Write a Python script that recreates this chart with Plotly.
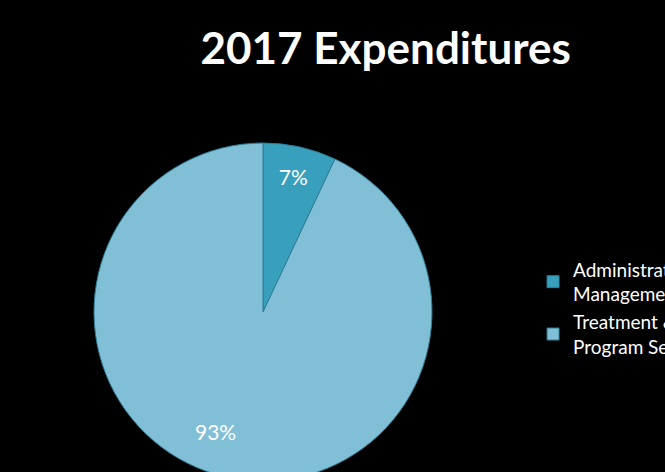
import plotly.graph_objects as go

# Expenditure shares for 2017
categories = ["Administrative &<br>Management", "Treatment &<br>Program Services"]
shares = [7, 93]
slice_colors = ["#38A0BC", "#80BFD6"]

# Pie occupies a 338px square; its lower edge runs past the bottom of the page
PIE_LEFT, PIE_TOP, PIE_SIZE = 94, 143, 338
FIG_W, FIG_H = 665, PIE_TOP + PIE_SIZE + 1

fig = go.Figure(
    go.Pie(
        labels=categories,
        values=shares,
        sort=False,
        direction="clockwise",
        rotation=0,
        marker=dict(colors=slice_colors, line=dict(color="#2E7F96", width=1)),
        texttemplate=["%{percent:.0%}", ""],
        textposition="inside",
        insidetextorientation="horizontal",
        textfont=dict(family="Lato", size=21, color="white"),
        hoverinfo="label+percent",
        domain=dict(x=[0, 1], y=[0, 1]),
    )
)

# Percentage label for the large slice, set low in the slice
total = sum(shares)
fig.add_annotation(
    text=f"{round(100 * shares[1] / total)}%",
    x=0.358,
    y=0.104,
    xref="paper",
    yref="paper",
    showarrow=False,
    font=dict(family="Lato", size=21, color="white"),
)

fig.update_layout(
    width=FIG_W,
    height=FIG_H,
    paper_bgcolor="black",
    plot_bgcolor="black",
    margin=dict(
        l=PIE_LEFT,
        r=FIG_W - PIE_LEFT - PIE_SIZE,
        t=PIE_TOP,
        b=FIG_H - PIE_TOP - PIE_SIZE,
        autoexpand=False,
    ),
    title=dict(
        text="<b>2017 Expenditures</b>",
        x=0.58,
        xanchor="center",
        y=0.9,
        yanchor="middle",
        yref="container",
        font=dict(family="Lato", size=44, color="white"),
    ),
    showlegend=True,
    legend=dict(
        x=1.299,
        xanchor="left",
        y=0.512,
        yanchor="middle",
        font=dict(family="Lato", size=19, color="white"),
        bgcolor="rgba(0,0,0,0)",
    ),
)

fig.write_html(
    "out.html",
    post_script="document.body.style.margin='0';document.body.style.overflow='hidden';",
)
